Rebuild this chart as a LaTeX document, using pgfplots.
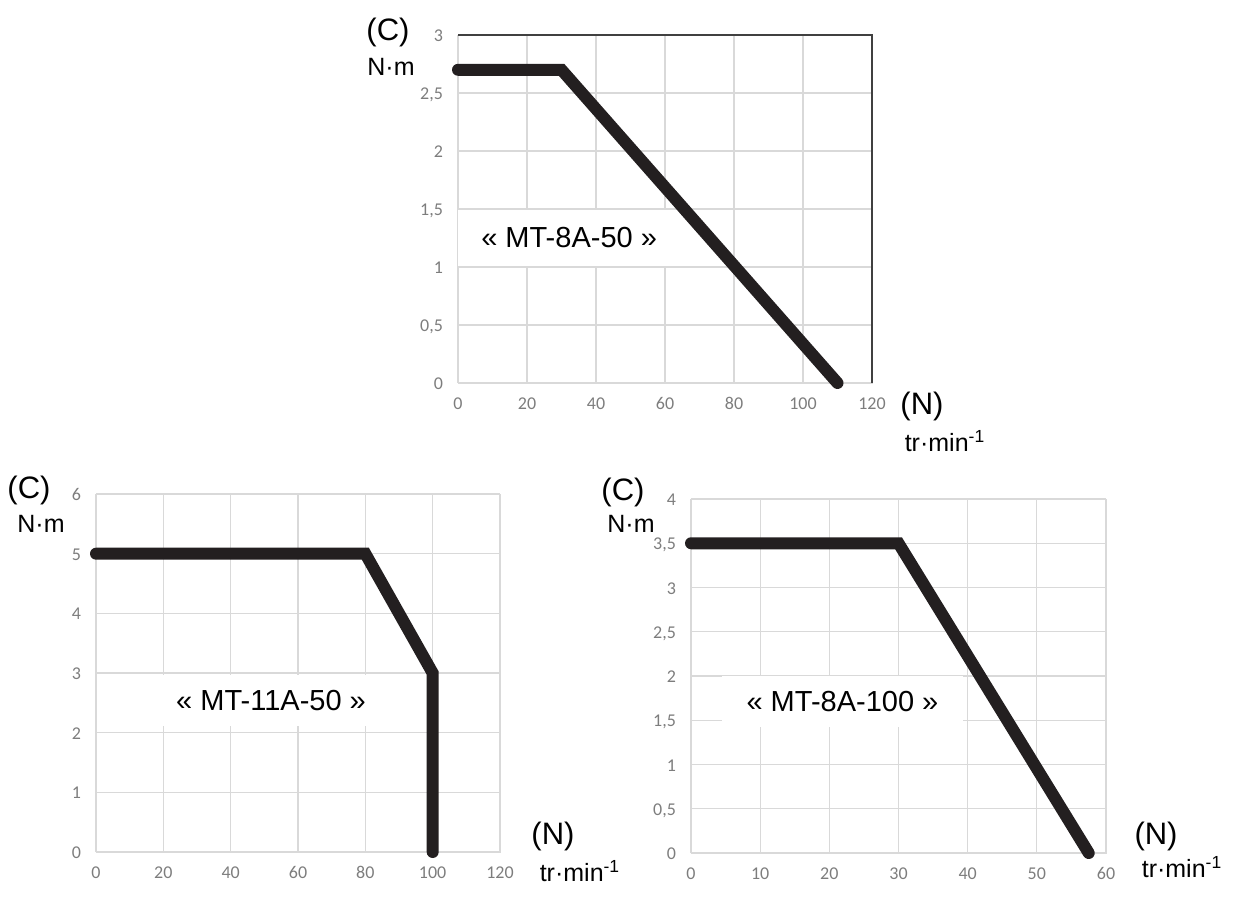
\documentclass[border=0pt]{standalone}
\usepackage{pgfplots}
\pgfplotsset{compat=1.18}
\usepackage{fontspec}
\setmainfont{Liberation Sans}
\newfontfamily\tickfont{Carlito}

\definecolor{gridgray}{RGB}{217,217,217}
\definecolor{ticktext}{RGB}{125,125,125}
\definecolor{curve}{RGB}{35,31,32}
\definecolor{frame}{RGB}{64,64,64}

\pgfplotsset{
  motor/.style={
    scale only axis,
    anchor=south west,
    axis line style={gridgray},
    grid=major,
    grid style={gridgray, line width=0.6pt},
    major tick length=0pt,
    tick style={draw=none},
    ticklabel style={font=\tickfont\fontsize{9}{10}\selectfont, text=ticktext,
                     text height=6.5pt, text depth=0pt},
    xticklabel style={yshift=-3pt},
    yticklabel style={xshift=-4pt},
    /pgf/number format/use comma,
    /pgf/number format/assume math mode=true,
    clip=false,
  },
  curve/.style={color=curve, line width=6pt, line cap=round, line join=miter},
}
\tikzset{
  namebox/.style={fill=white, inner sep=0pt, minimum height=25.5pt,
                  font=\fontsize{14.5}{16}\selectfont},
  unit/.style={font=\fontsize{12.5}{14}\selectfont, inner sep=0pt},
  unitbig/.style={font=\fontsize{15.5}{17}\selectfont, inner sep=0pt},
}

\begin{document}
\begin{tikzpicture}
\path[use as bounding box] (0,0) rectangle (617.5pt,455.5pt);

% top chart : MT-8A-50
\begin{axis}[motor,
  at={(229pt,264pt)}, width=207pt, height=174pt,
  xmin=0, xmax=120, ymin=0, ymax=3,
  xtick={0,20,...,120},
  ytick={0,0.5,1,1.5,2,2.5,3},
]
\draw[frame, line width=0.8pt] (rel axis cs:0,1) -- (rel axis cs:1,1) -- (rel axis cs:1,0);
\node[namebox, minimum width=111pt, minimum height=28pt] at (axis cs:32.2,1.25) {« MT-8A-50 »};
\addplot[curve] coordinates {(0,2.7) (30,2.7) (110,0)};
\end{axis}

% bottom left chart : MT-11A-50
\begin{axis}[motor,
  at={(48pt,29.5pt)}, width=202pt, height=179pt,
  xmin=0, xmax=120, ymin=0, ymax=6,
  xtick={0,20,...,120},
  ytick={0,1,...,6},
]
\node[namebox, minimum width=119pt] at (axis cs:52,2.54) {« MT-11A-50 »};
\addplot[curve] coordinates {(0,5) (80,5) (100,3) (100,0)};
\end{axis}

% bottom right chart : MT-8A-100
\begin{axis}[motor,
  at={(345.5pt,29pt)}, width=207.5pt, height=177pt,
  xmin=0, xmax=60, ymin=0, ymax=4,
  xtick={0,10,...,60},
  ytick={0,0.5,1,1.5,2,2.5,3,3.5,4},
]
\node[namebox, minimum width=120.5pt] at (axis cs:21.9,1.71) {« MT-8A-100 »};
\addplot[curve] coordinates {(0,3.5) (30,3.5) (57.5,0)};
\end{axis}

% unit labels
\node[unitbig] at (194pt,439.5pt) {(C)};
\node[unit] at (195.5pt,422pt) {N·m};
\node[unitbig] at (461pt,252.5pt) {(N)};
\node[unit] at (472.5pt,235pt) {tr·min\textsuperscript{-1}};

\node[unitbig] at (14.5pt,210.5pt) {(C)};
\node[unit] at (20.5pt,193.5pt) {N·m};
\node[unitbig] at (276.5pt,37.5pt) {(N)};
\node[unit] at (290pt,20pt) {tr·min\textsuperscript{-1}};

\node[unitbig] at (311.5pt,209.5pt) {(C)};
\node[unit] at (315.5pt,193.5pt) {N·m};
\node[unitbig] at (578pt,37.5pt) {(N)};
\node[unit] at (591pt,22pt) {tr·min\textsuperscript{-1}};
\end{tikzpicture}
\end{document}
